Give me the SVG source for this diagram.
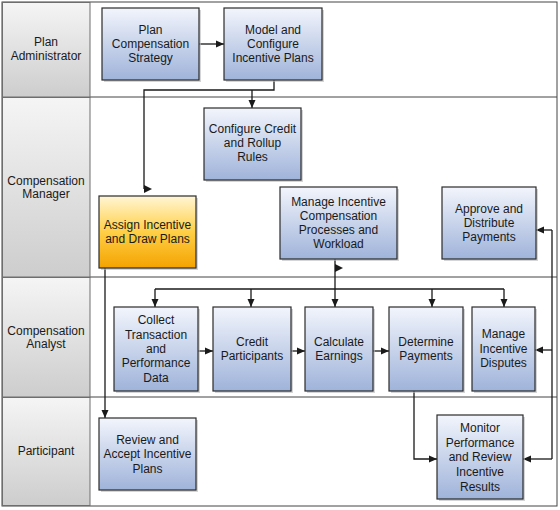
<svg xmlns="http://www.w3.org/2000/svg" width="560" height="510" viewBox="0 0 560 510">
<defs>
<linearGradient id="gBlue" x1="0" y1="0" x2="0" y2="1">
<stop offset="0" stop-color="#f2f5fc"/>
<stop offset="1" stop-color="#9fb3da"/>
</linearGradient>
<linearGradient id="gOrange" x1="0" y1="0" x2="0" y2="1">
<stop offset="0" stop-color="#fff6d6"/>
<stop offset="0.5" stop-color="#ffcf45"/>
<stop offset="1" stop-color="#f4a300"/>
</linearGradient>
<linearGradient id="gHead" x1="0" y1="0" x2="0" y2="1">
<stop offset="0" stop-color="#f5f5f5"/>
<stop offset="1" stop-color="#cdcdcd"/>
</linearGradient>
<marker id="arr" markerWidth="8" markerHeight="8" refX="8" refY="4" orient="auto" markerUnits="userSpaceOnUse">
<path d="M0,0.5 L8,4 L0,7.5 z" fill="#1a1a1a"/>
</marker>
<marker id="arrR" markerWidth="9" markerHeight="9" refX="0" refY="4" orient="0" markerUnits="userSpaceOnUse">
<path d="M0,0 L8,4 L0,8 z" fill="#1a1a1a"/>
</marker>
</defs>
<style>
.head{fill:url(#gHead);stroke:#6e6e6e;stroke-width:1}
.lane{fill:#ffffff;stroke:#444;stroke-width:1}
.sh{fill:#b9b9b9;opacity:0.6}
.box{fill:url(#gBlue);stroke:#2b2b2b;stroke-width:1.2}
.obox{fill:url(#gOrange);stroke:#2b2b2b;stroke-width:1.2}
text{font-family:"Liberation Sans",Arial,sans-serif;font-size:12px;fill:#1a1a1a;text-anchor:middle}
.c{fill:none;stroke:#1a1a1a;stroke-width:1.3}
.a{marker-end:url(#arr)}
</style>

<g id="lanes">
<rect class="lane" x="2" y="2" width="555" height="504"/>
<line x1="2" y1="97" x2="557" y2="97" stroke="#444" stroke-width="1"/>
<line x1="2" y1="277" x2="557" y2="277" stroke="#444" stroke-width="1"/>
<line x1="2" y1="397" x2="557" y2="397" stroke="#444" stroke-width="1"/>
</g>

<g id="lane-plan-administrator">
<rect class="head" x="2.5" y="2.5" width="87.5" height="94.5"/>
<text x="46" y="46">Plan</text>
<text x="46" y="60">Administrator</text>
</g>
<g id="lane-compensation-manager">
<rect class="head" x="2.5" y="97.5" width="87.5" height="179.5"/>
<text x="46" y="185">Compensation</text>
<text x="46" y="198">Manager</text>
</g>
<g id="lane-compensation-analyst">
<rect class="head" x="2.5" y="277.5" width="87.5" height="119.5"/>
<text x="46" y="335">Compensation</text>
<text x="46" y="348">Analyst</text>
</g>
<g id="lane-participant">
<rect class="head" x="2.5" y="397.5" width="87.5" height="108"/>
<text x="46" y="455">Participant</text>
</g>

<g id="connectors">
<path class="c a" d="M199,44 H224"/>
<path class="c" d="M274,80 V90 H144 V189" marker-end="url(#arrR)"/>
<path class="c a" d="M252,90 V108"/>
<path class="c" d="M335,259 V268" marker-end="url(#arrR)"/>
<path class="c a" d="M335,268 V307"/>
<path class="c" d="M155,289 H504"/>
<path class="c a" d="M155,289 V307"/>
<path class="c a" d="M251,289 V307"/>
<path class="c a" d="M432,289 V307"/>
<path class="c a" d="M504,289 V307"/>
<path class="c a" d="M105,268 V418"/>
<path class="c a" d="M198,351 H213"/>
<path class="c a" d="M291,351 H305"/>
<path class="c a" d="M373,351 H389"/>
<path class="c" d="M552,230 V459"/>
<path class="c a" d="M552,230 H536"/>
<path class="c a" d="M552,350 H535"/>
<path class="c a" d="M552,459 H523"/>
<path class="c a" d="M414,391 V459 H437"/>
</g>

<g id="plan-compensation-strategy">
<rect class="sh" x="104" y="10" width="97" height="72"/>
<rect class="box" x="102" y="8" width="97" height="72"/>
<text x="150.5" y="34">Plan</text>
<text x="150.5" y="48">Compensation</text>
<text x="150.5" y="62">Strategy</text>
</g>
<g id="model-configure-incentive-plans">
<rect class="sh" x="226" y="10" width="98" height="72"/>
<rect class="box" x="224" y="8" width="98" height="72"/>
<text x="273" y="34">Model and</text>
<text x="273" y="48">Configure</text>
<text x="273" y="62">Incentive Plans</text>
</g>
<g id="configure-credit-rollup-rules">
<rect class="sh" x="206" y="110" width="97" height="72"/>
<rect class="box" x="204" y="108" width="97" height="72"/>
<text x="252.5" y="133">Configure Credit</text>
<text x="252.5" y="147">and Rollup</text>
<text x="252.5" y="161">Rules</text>
</g>
<g id="assign-incentive-draw-plans">
<rect class="sh" x="101" y="198" width="97" height="72"/>
<rect class="obox" x="99" y="196" width="97" height="72"/>
<text x="147.5" y="229">Assign Incentive</text>
<text x="147.5" y="243">and Draw Plans</text>
</g>
<g id="manage-incentive-compensation-processes">
<rect class="sh" x="282" y="189" width="117" height="72"/>
<rect class="box" x="280" y="187" width="117" height="72"/>
<text x="338.5" y="206">Manage Incentive</text>
<text x="338.5" y="220">Compensation</text>
<text x="338.5" y="234">Processes and</text>
<text x="338.5" y="248">Workload</text>
</g>
<g id="approve-distribute-payments">
<rect class="sh" x="444" y="189" width="94" height="72"/>
<rect class="box" x="442" y="187" width="94" height="72"/>
<text x="489" y="213">Approve and</text>
<text x="489" y="227">Distribute</text>
<text x="489" y="241">Payments</text>
</g>
<g id="collect-transaction-performance-data">
<rect class="sh" x="116" y="309" width="84" height="84"/>
<rect class="box" x="114" y="307" width="84" height="84"/>
<text x="156" y="324">Collect</text>
<text x="156" y="339">Transaction</text>
<text x="156" y="353">and</text>
<text x="156" y="367">Performance</text>
<text x="156" y="382">Data</text>
</g>
<g id="credit-participants">
<rect class="sh" x="215" y="309" width="78" height="84"/>
<rect class="box" x="213" y="307" width="78" height="84"/>
<text x="252" y="346">Credit</text>
<text x="252" y="360">Participants</text>
</g>
<g id="calculate-earnings">
<rect class="sh" x="307" y="309" width="68" height="84"/>
<rect class="box" x="305" y="307" width="68" height="84"/>
<text x="339" y="346">Calculate</text>
<text x="339" y="360">Earnings</text>
</g>
<g id="determine-payments">
<rect class="sh" x="391" y="309" width="74" height="84"/>
<rect class="box" x="389" y="307" width="74" height="84"/>
<text x="426" y="346">Determine</text>
<text x="426" y="360">Payments</text>
</g>
<g id="manage-incentive-disputes">
<rect class="sh" x="474" y="309" width="63" height="84"/>
<rect class="box" x="472" y="307" width="63" height="84"/>
<text x="503.5" y="338">Manage</text>
<text x="503.5" y="353">Incentive</text>
<text x="503.5" y="367">Disputes</text>
</g>
<g id="review-accept-incentive-plans">
<rect class="sh" x="101" y="420" width="97" height="72"/>
<rect class="box" x="99" y="418" width="97" height="72"/>
<text x="147.5" y="444">Review and</text>
<text x="147.5" y="458">Accept Incentive</text>
<text x="147.5" y="473">Plans</text>
</g>
<g id="monitor-performance-review-results">
<rect class="sh" x="439" y="417" width="86" height="84"/>
<rect class="box" x="437" y="415" width="86" height="84"/>
<text x="480" y="432">Monitor</text>
<text x="480" y="447">Performance</text>
<text x="480" y="461">and Review</text>
<text x="480" y="476">Incentive</text>
<text x="480" y="491">Results</text>
</g>
</svg>
